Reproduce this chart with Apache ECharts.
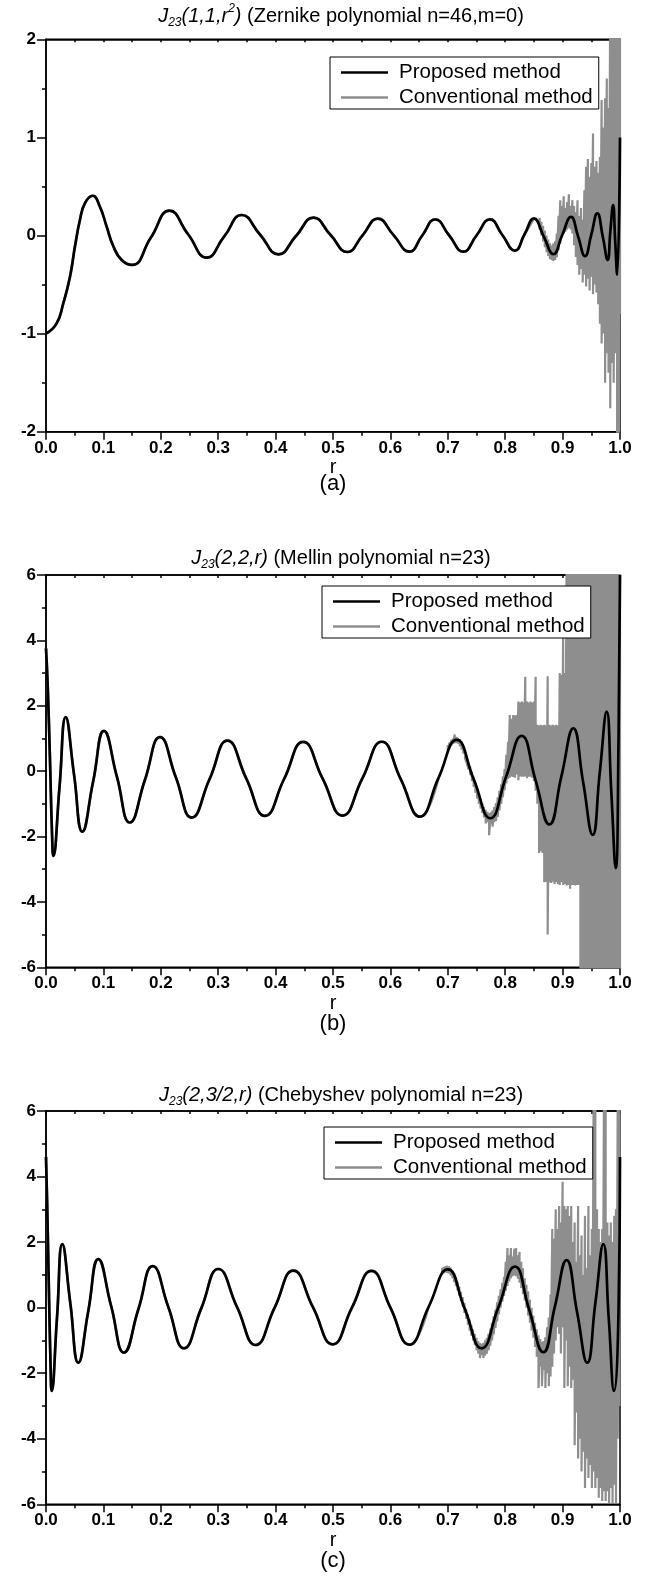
<!DOCTYPE html>
<html>
<head>
<meta charset="utf-8">
<title>Jacobi polynomial evaluation: proposed vs conventional method</title>
<script src="https://cdn.jsdelivr.net/npm/echarts@6/dist/echarts.min.js"></script>
<style>
  html, body { margin: 0; padding: 0; background: #fff; }
  #chart { width: 648px; height: 1588px; }
</style>
</head>
<body>
<div id="chart"></div>
<script>
// ---- (a) J23(1,1,r^2), Zernike n=46, m=0 : [r, value] ----
const zernikeProposed = [
  [0, -1.0], [0.0186, -0.895], [0.0302, -0.69], [0.0418, -0.42], [0.0505, -0.11],
  [0.0592, 0.16], [0.0679, 0.33], [0.0813, 0.405], [0.0941, 0.29], [0.1057, 0.09],
  [0.1173, -0.11], [0.1318, -0.25], [0.150, -0.30], [0.1825, -0.024], [0.215, 0.253],
  [0.2475, 0.013], [0.280, -0.226], [0.3105, -0.01], [0.341, 0.209], [0.373, 0.008],
  [0.405, -0.192], [0.4355, -0.005], [0.466, 0.182], [0.4955, 0.007], [0.525, -0.168],
  [0.5515, 0.002], [0.578, 0.172], [0.6055, 0.004], [0.633, -0.165], [0.6555, 0.0],
  [0.678, 0.165], [0.7025, 0.0], [0.727, -0.165], [0.750, 0.0], [0.7735, 0.165],
  [0.795, 0.005], [0.817, -0.155], [0.8335, 0.01], [0.850, 0.175], [0.867, -0.008],
  [0.884, -0.19], [0.899, 0.0], [0.9146, 0.19], [0.927, -0.01], [0.939, -0.21],
  [0.950, 0.008], [0.9605, 0.226], [0.970, -0.012], [0.9785, -0.25], [0.983, 0.03],
  [0.988, 0.31], [0.9915, -0.045], [0.995, -0.40], [1.0, 1.0]
];
// conventional method, unstable part: [r, low, high]
const zernikeConvNoise = [
  [0.860, 0.06, 0.18], [0.863, 0.00, 0.14], [0.866, -0.06, 0.10], [0.869, -0.12, 0.05],
  [0.872, -0.17, 0.00], [0.875, -0.21, -0.04], [0.878, -0.24, -0.08], [0.881, -0.25, -0.10],
  [0.884, -0.26, -0.08], [0.887, -0.25, -0.06], [0.890, -0.22, 0.02], [0.893, -0.15, 0.20],
  [0.896, -0.08, 0.36], [0.899, -0.02, 0.30], [0.902, 0.02, 0.40], [0.905, 0.04, 0.28],
  [0.908, 0.06, 0.34], [0.911, 0.08, 0.42], [0.914, 0.06, 0.30], [0.917, 0.02, 0.36],
  [0.920, -0.10, 0.30], [0.923, -0.22, 0.24], [0.926, -0.30, 0.36], [0.929, -0.40, 0.20],
  [0.932, -0.34, 0.28], [0.935, -0.48, 0.16], [0.938, -0.40, 0.46], [0.941, -0.52, 0.70],
  [0.944, -0.44, 0.78], [0.947, -0.56, 0.60], [0.950, -0.42, 0.74], [0.953, -0.60, 1.04],
  [0.956, -0.50, 0.70], [0.959, -0.58, 0.76], [0.962, -0.70, 0.64], [0.965, -0.90, 0.80],
  [0.968, -1.10, 1.38], [0.971, -1.00, 1.10], [0.974, -1.50, 1.40], [0.977, -1.20, 1.60],
  [0.980, -1.40, 1.30], [0.983, -1.76, 2.50], [0.986, -1.30, 2.50], [0.989, -1.50, 2.50],
  [0.992, -1.20, 2.50], [0.995, -2.50, 2.50], [0.998, -2.50, 2.50], [1.000, -0.80, 2.50]
];

// ---- (b) J23(2,2,r), Mellin n=23 ----
const mellinProposed = [
  [0, 3.76], [0.003, 2.6], [0.007, 0.3], [0.0105, -1.9], [0.0128, -2.59],
  [0.0236, -0.47], [0.0343, 1.65], [0.0488, -0.10], [0.0633, -1.85], [0.0822, -0.31],
  [0.101, 1.23], [0.1235, -0.17], [0.146, -1.57], [0.1723, -0.27], [0.1986, 1.04],
  [0.2262, -0.19], [0.2538, -1.42], [0.285, -0.24], [0.316, 0.935], [0.3488, -0.22],
  [0.3815, -1.37], [0.4148, -0.24], [0.448, 0.893], [0.482, -0.23], [0.5165, -1.36],
  [0.551, -0.23], [0.585, 0.90], [0.618, -0.245], [0.6516, -1.39], [0.6835, -0.22],
  [0.7155, 0.955], [0.745, -0.24], [0.7741, -1.44], [0.8014, -0.18], [0.8287, 1.08],
  [0.8529, -0.28], [0.877, -1.63], [0.8979, -0.16], [0.9187, 1.31], [0.9356, -0.32],
  [0.9524, -1.95], [0.9646, -0.07], [0.9768, 1.82], [0.9847, -0.58], [0.9925, -2.97],
  [0.9975, 1.0], [1.0, 6.0]
];
const mellinConvNoise = [
  [0.700, 0.62, 0.80], [0.703, 0.70, 0.88], [0.706, 0.78, 0.95], [0.709, 0.84, 1.00],
  [0.712, 0.86, 1.12], [0.715, 0.86, 1.05], [0.718, 0.84, 1.02], [0.721, 0.76, 0.98],
  [0.724, 0.66, 0.90], [0.727, 0.54, 0.76], [0.730, 0.40, 0.62], [0.733, 0.24, 0.46],
  [0.736, 0.06, 0.30], [0.739, -0.12, 0.14], [0.742, -0.30, -0.02], [0.745, -0.48, -0.18],
  [0.748, -0.66, -0.36], [0.751, -0.84, -0.52], [0.754, -1.00, -0.70], [0.757, -1.14, -0.84],
  [0.760, -1.28, -0.98], [0.763, -1.42, -1.10], [0.766, -1.60, -1.18], [0.769, -1.56, -1.24],
  [0.772, -1.96, -1.28], [0.775, -1.62, -1.26], [0.778, -1.70, -1.20], [0.781, -1.56, -1.10],
  [0.784, -1.52, -0.98], [0.787, -1.40, -0.80], [0.790, -1.20, -0.60], [0.793, -1.00, -0.40],
  [0.796, -0.80, -0.16], [0.799, -0.58, 0.06], [0.802, -0.38, 0.50], [0.805, -0.24, 0.90],
  [0.808, -0.20, 1.72], [0.811, -0.16, 1.60], [0.814, -0.18, 1.72], [0.817, -0.20, 1.70],
  [0.820, -0.10, 1.72], [0.823, -0.28, 2.13], [0.826, -0.16, 2.10], [0.829, -0.17, 2.13],
  [0.832, -0.17, 2.10], [0.835, -0.16, 2.89], [0.838, -0.22, 2.13], [0.841, -0.17, 2.10],
  [0.844, -0.17, 2.13], [0.847, -0.20, 2.10], [0.850, -0.30, 2.13], [0.853, -0.60, 2.89],
  [0.856, -1.00, 1.42], [0.859, -2.50, 1.40], [0.862, -2.45, 1.42], [0.865, -2.50, 1.40],
  [0.868, -3.40, 1.42], [0.871, -3.38, 1.40], [0.874, -5.00, 2.90], [0.877, -3.40, 1.42],
  [0.880, -3.42, 1.40], [0.883, -3.38, 1.42], [0.886, -3.45, 1.40], [0.889, -3.40, 1.42],
  [0.892, -3.45, 1.40], [0.895, -3.48, 3.00], [0.898, -3.40, 2.95], [0.901, -3.48, 4.40],
  [0.904, -3.45, 3.00], [0.907, -3.50, 6.50], [0.910, -3.48, 6.50], [0.913, -3.60, 6.50],
  [0.916, -3.48, 6.50], [0.919, -3.48, 6.50], [0.922, -3.50, 6.50], [0.925, -3.48, 6.50],
  [0.928, -3.48, 6.50], [0.931, -6.50, 6.50], [0.934, -6.50, 6.50], [0.937, -6.50, 6.50],
  [0.940, -6.50, 6.50], [0.943, -6.50, 6.50], [0.946, -6.50, 6.50], [0.949, -6.50, 6.50],
  [0.952, -6.50, 6.50], [0.955, -6.50, 6.50], [0.958, -6.50, 6.50], [0.961, -6.50, 6.50],
  [0.964, -6.50, 6.50], [0.967, -6.50, 6.50], [0.970, -6.50, 6.50], [0.973, -6.50, 6.50],
  [0.976, -6.50, 6.50], [0.979, -6.50, 6.50], [0.982, -6.50, 6.50], [0.985, -6.50, 6.50],
  [0.988, -6.50, 6.50], [0.991, -6.50, 6.50], [0.994, -6.50, 6.50], [0.997, -6.50, 6.50],
  [1.000, -6.50, 6.50]
];

// ---- (c) J23(2,3/2,r), Chebyshev n=23 ----
const chebProposed = [
  [0, 4.6], [0.002, 3.2], [0.005, 0.6], [0.008, -1.8], [0.0099, -2.54],
  [0.0192, -0.30], [0.0284, 1.94], [0.0424, 0.13], [0.0563, -1.68], [0.0737, -0.10],
  [0.0911, 1.48], [0.1135, 0.05], [0.1359, -1.37], [0.1609, -0.05], [0.1859, 1.27],
  [0.2132, 0.015], [0.2404, -1.24], [0.2703, -0.03], [0.3002, 1.18], [0.3328, 0.02],
  [0.3653, -1.14], [0.3981, -0.005], [0.4309, 1.13], [0.4652, 0.005], [0.4995, -1.12],
  [0.533, 0.0], [0.567, 1.12], [0.600, 0.0], [0.633, -1.13], [0.6665, 0.02],
  [0.700, 1.17], [0.7295, -0.035], [0.759, -1.24], [0.788, 0.005], [0.817, 1.25],
  [0.8417, -0.055], [0.8664, -1.36], [0.8867, 0.045], [0.907, 1.45], [0.925, -0.115],
  [0.943, -1.68], [0.957, 0.13], [0.971, 1.94], [0.9803, -0.30], [0.9895, -2.54],
  [0.9975, 0.0], [1.0, 4.6]
];
const chebConvNoise = [
  [0.690, 1.00, 1.22], [0.693, 1.06, 1.24], [0.696, 1.08, 1.26], [0.699, 1.06, 1.28],
  [0.702, 1.04, 1.26], [0.705, 0.98, 1.22], [0.708, 0.90, 1.14], [0.711, 0.78, 1.04],
  [0.714, 0.66, 0.92], [0.717, 0.52, 0.78], [0.720, 0.36, 0.64], [0.723, 0.20, 0.48],
  [0.726, 0.02, 0.32], [0.729, -0.16, 0.14], [0.732, -0.34, -0.04], [0.735, -0.52, -0.20],
  [0.738, -0.70, -0.36], [0.741, -0.86, -0.52], [0.744, -1.00, -0.66], [0.747, -1.14, -0.80],
  [0.750, -1.30, -0.92], [0.753, -1.40, -1.02], [0.756, -1.54, -1.08], [0.759, -1.44, -1.10],
  [0.762, -1.54, -1.08], [0.765, -1.46, -1.00], [0.768, -1.40, -0.92], [0.771, -1.30, -0.80],
  [0.774, -1.16, -0.64], [0.777, -1.00, -0.46], [0.780, -0.82, -0.26], [0.783, -0.62, -0.06],
  [0.786, -0.42, 0.16], [0.789, -0.20, 0.36], [0.792, 0.00, 0.56], [0.795, 0.18, 0.76],
  [0.798, 0.36, 0.94], [0.801, 0.52, 1.40], [0.804, 0.66, 1.82], [0.807, 0.80, 1.60],
  [0.810, 0.90, 1.82], [0.813, 0.96, 1.56], [0.816, 0.98, 1.80], [0.819, 0.96, 1.82],
  [0.822, 0.88, 1.60], [0.825, 0.76, 1.70], [0.828, 0.60, 1.40], [0.831, 0.42, 1.20],
  [0.834, 0.22, 0.90], [0.837, 0.00, 0.70], [0.840, -0.24, 0.50], [0.843, -0.46, 0.24],
  [0.846, -0.70, 0.00], [0.849, -0.92, -0.24], [0.852, -1.20, -0.46], [0.855, -1.50, -0.66],
  [0.858, -2.45, -0.84], [0.861, -1.80, -0.96], [0.864, -2.40, -1.04], [0.867, -1.90, -1.02],
  [0.870, -2.45, -0.90], [0.873, -2.00, -0.60], [0.876, -2.40, -0.30], [0.879, -2.10, 0.40],
  [0.882, -1.80, 2.40], [0.885, -1.40, 2.10], [0.888, -1.00, 3.00], [0.891, -0.60, 2.40],
  [0.894, -0.80, 3.10], [0.897, -1.40, 2.60], [0.900, -0.60, 3.84], [0.903, -2.45, 3.10],
  [0.906, -1.00, 3.00], [0.909, -2.40, 3.10], [0.912, -1.80, 2.80], [0.915, -2.45, 3.10],
  [0.918, -2.20, 2.00], [0.921, -4.20, 2.60], [0.924, -3.20, 1.40], [0.927, -4.60, 3.10],
  [0.930, -4.00, 1.60], [0.933, -5.00, 2.20], [0.936, -4.40, 1.00], [0.939, -5.50, 2.80],
  [0.942, -4.60, 1.20], [0.945, -5.20, 3.10], [0.948, -4.80, 1.60], [0.951, -5.50, 2.40],
  [0.954, -5.00, 6.20], [0.957, -5.50, 6.20], [0.960, -5.20, 3.00], [0.963, -5.80, 2.40],
  [0.966, -5.50, 2.00], [0.969, -5.90, 2.40], [0.972, -5.60, 6.20], [0.975, -5.90, 6.20],
  [0.978, -5.60, 2.60], [0.981, -5.96, 2.20], [0.984, -5.50, 2.60], [0.987, -5.96, 2.00],
  [0.990, -5.40, 2.80], [0.993, -5.96, 3.00], [0.996, -4.00, 6.20], [0.999, -3.00, 6.20]
];

// axis ranges and tick steps
const yRanges = [[-2, 2, 1], [-6, 6, 2], [-6, 6, 2]];
const panelTags = ['(a)', '(b)', '(c)'];
const titleTexts = [
  '{i|J}{sub|23}{i|(1,1,r}{sup|2}{i|)}{n| (Zernike polynomial n=46,m=0)}',
  '{i|J}{sub|23}{i|(2,2,r)}{n| (Mellin polynomial n=23)}',
  '{i|J}{sub|23}{i|(2,3/2,r)}{n| (Chebyshev polynomial n=23)}'
];
const seriesNames = ['Proposed method', 'Conventional method'];

const panels = [
  { proposed: zernikeProposed, noise: zernikeConvNoise },
  { proposed: mellinProposed, noise: mellinConvNoise },
  { proposed: chebProposed, noise: chebConvNoise }
];

// ---- layout ----
const FONT = '"Liberation Sans", Arial, Helvetica, sans-serif';
const GRID_LEFT = 46, GRID_RIGHT = 28;
const gridBoxes = [
  { top: 39.3, height: 392.4 },
  { top: 575, height: 392.3 },
  { top: 1111, height: 393.3 }
];
const titleTops = [-2, 540, 1077];
const tagCenters = [484, 1024, 1561];
const legendPos = [
  { left: 330, top: 57 },
  { left: 322, top: 586 },
  { left: 324, top: 1127 }
];
const GRAY = '#8e8e8e';

// vertical strokes at each r between the low and high reading
function strokes(rows) {
  const out = [];
  rows.forEach(([r, lo, hi]) => { out.push([r, hi], [r, lo]); });
  return out;
}

const tickLine = { color: '#000', width: 1.5 };
const labelStyle = { color: '#000', fontFamily: FONT, fontWeight: 'bold', fontSize: 17 };

const option = {
  animation: false,
  backgroundColor: '#fff',
  title: titleTexts.map((t, i) => ({
    text: t,
    left: 336,
    top: titleTops[i],
    textAlign: 'center',
    textStyle: {
      color: '#000',
      fontFamily: FONT,
      fontWeight: 'normal',
      fontSize: 20,
      rich: {
        i: { fontStyle: 'italic', fontSize: 20, lineHeight: 26, verticalAlign: 'middle', fontFamily: FONT, color: '#000' },
        n: { fontSize: 20, lineHeight: 26, verticalAlign: 'middle', fontFamily: FONT, color: '#000' },
        sub: { fontStyle: 'italic', fontSize: 12, lineHeight: 12, verticalAlign: 'bottom', fontFamily: FONT, color: '#000' },
        sup: { fontStyle: 'italic', fontSize: 12, lineHeight: 12, verticalAlign: 'top', fontFamily: FONT, color: '#000' }
      }
    }
  })),
  legend: legendPos.map(p => ({
    data: seriesNames,
    orient: 'vertical',
    left: p.left,
    top: p.top,
    icon: 'rect',
    itemWidth: 47,
    itemHeight: 2.6,
    itemGap: 2,
    padding: [4, 6, 0, 11],
    backgroundColor: '#fff',
    borderColor: '#000',
    borderWidth: 1,
    selectedMode: false,
    textStyle: { color: '#000', fontFamily: FONT, fontSize: 20.5, lineHeight: 23, padding: [0, 0, 0, 6] }
  })),
  grid: gridBoxes.map(g => ({
    left: GRID_LEFT, right: GRID_RIGHT, top: g.top, height: g.height,
    show: true, borderColor: '#000', borderWidth: 1.5, backgroundColor: 'transparent'
  })),
  xAxis: [
    ...gridBoxes.map((g, i) => ({
      type: 'value', gridIndex: i, min: 0, max: 1, interval: 0.1,
      position: 'bottom',
      name: 'r', nameLocation: 'middle', nameGap: 24,
      nameTextStyle: { color: '#000', fontFamily: FONT, fontSize: 20 },
      axisLine: { onZero: false, lineStyle: tickLine },
      axisTick: { length: 8, lineStyle: tickLine },
      minorTick: { show: true, splitNumber: 2, length: 4, lineStyle: tickLine },
      splitLine: { show: false },
      axisLabel: Object.assign({ margin: 8, formatter: v => v.toFixed(1) }, labelStyle)
    })),
    ...gridBoxes.map((g, i) => ({
      type: 'value', gridIndex: i, min: 0, max: 1, interval: 0.1,
      position: 'top',
      axisLine: { onZero: false, lineStyle: tickLine },
      axisTick: { inside: true, length: 3, lineStyle: tickLine },
      minorTick: { show: true, splitNumber: 2, length: 3, lineStyle: tickLine },
      splitLine: { show: false },
      axisLabel: { show: false }
    }))
  ],
  yAxis: yRanges.map(([lo, hi, step], i) => ({
    type: 'value', gridIndex: i, min: lo, max: hi, interval: step,
    axisLine: { onZero: false, lineStyle: tickLine },
    axisTick: { length: 9, lineStyle: tickLine },
    minorTick: { show: true, splitNumber: 2, length: 4, lineStyle: tickLine },
    splitLine: { show: false },
    axisLabel: Object.assign({ margin: 10 }, labelStyle)
  })),
  graphic: panelTags.map((t, i) => ({
    type: 'text',
    x: 333,
    y: tagCenters[i],
    style: {
      text: t, fill: '#000', font: '22px ' + FONT,
      textAlign: 'center', textVerticalAlign: 'middle'
    }
  })),
  series: []
};

panels.forEach((p, i) => {
  const noiseStart = p.noise[0][0];
  const clean = p.proposed.filter(d => d[0] < noiseStart);
  option.series.push(
    {
      type: 'line', name: seriesNames[1], xAxisIndex: i, yAxisIndex: i,
      data: clean, smooth: true, showSymbol: false, symbol: 'none',
      color: GRAY, lineStyle: { color: GRAY, width: 2.6 }, z: 2, silent: true
    },
    {
      type: 'line', name: seriesNames[1], xAxisIndex: i, yAxisIndex: i,
      data: strokes(p.noise), smooth: false, showSymbol: false, symbol: 'none',
      color: GRAY, lineStyle: { color: GRAY, width: 2.2 }, z: 2, silent: true
    },
    {
      type: 'line', name: seriesNames[0], xAxisIndex: i, yAxisIndex: i,
      data: p.proposed, smooth: true, showSymbol: false, symbol: 'none',
      color: '#000', lineStyle: { color: '#000', width: 2.7 }, z: 3, silent: true
    }
  );
});

const chart = echarts.init(document.getElementById('chart'), null, { renderer: 'canvas' });
chart.setOption(option);
</script>
</body>
</html>
